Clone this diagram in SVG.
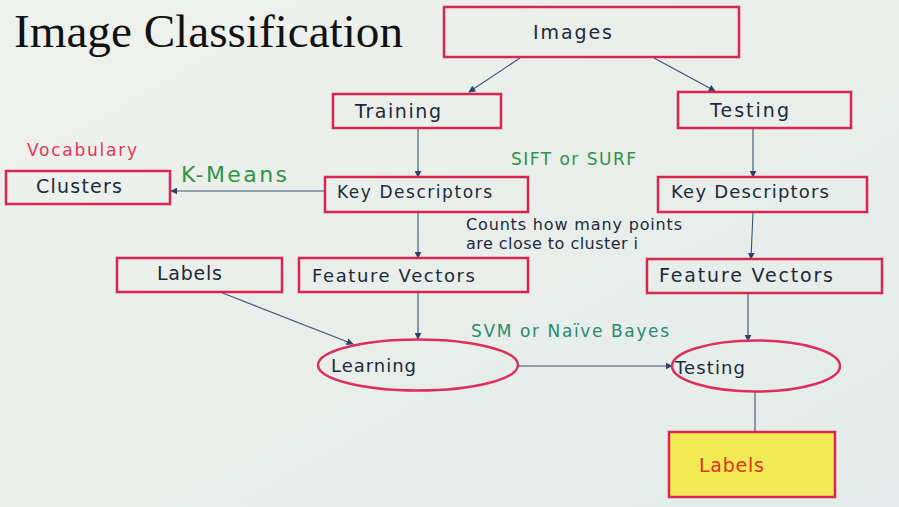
<svg xmlns="http://www.w3.org/2000/svg" width="899" height="507" viewBox="0 0 899 507">
  <defs>
    <linearGradient id="bg" x1="0" y1="0" x2="1" y2="1">
      <stop offset="0" stop-color="#eff1ec"/>
      <stop offset="0.5" stop-color="#e9eeea"/>
      <stop offset="1" stop-color="#e3ecea"/>
    </linearGradient>
    <marker id="arrow" viewBox="0 0 10 10" refX="9" refY="5" markerWidth="7" markerHeight="7" orient="auto" markerUnits="userSpaceOnUse">
      <path d="M0,0 L10,5 L0,10 z" fill="#2c4466"/>
    </marker>
    <style>
      .box { fill: none; stroke: #d8264e; stroke-width: 2.5; }
      .oval { fill: none; stroke: #dc2f5a; stroke-width: 2.5; }
      text { font-family: "DejaVu Sans", "Noto Sans", sans-serif; }
      .lbl { font-size: 19px; fill: #1c2a3c; }
      .note { font-size: 16px; fill: #1c2a3c; }
      .green { font-size: 17px; fill: #2e9446; }
      .teal { font-size: 17px; fill: #2a8a6c; }
      .red { font-size: 17px; fill: #e2365a; }
      .edge { stroke: #3a5272; stroke-width: 1.1; fill: none; }
      .edge.arrowed { marker-end: url(#arrow); }
    </style>
  </defs>

  <rect x="0" y="0" width="899" height="507" fill="url(#bg)"/>

  <text x="14" y="47" style="font-family: 'Liberation Serif', serif; font-size: 47px;" fill="#111" textLength="389" lengthAdjust="spacingAndGlyphs">Image Classification</text>

  <!-- connectors -->
  <g id="connectors">
    <line class="edge arrowed" x1="520" y1="58" x2="469" y2="92"/>
    <line class="edge arrowed" x1="654" y1="58" x2="715" y2="91"/>
    <line class="edge arrowed" x1="418" y1="129" x2="418" y2="177"/>
    <line class="edge arrowed" x1="753" y1="129" x2="753" y2="177"/>
    <line class="edge arrowed" x1="325" y1="191" x2="171" y2="191"/>
    <line class="edge arrowed" x1="418" y1="212" x2="418" y2="258"/>
    <line class="edge arrowed" x1="753" y1="212" x2="751" y2="259"/>
    <line class="edge arrowed" x1="220" y1="292" x2="353" y2="344"/>
    <line class="edge arrowed" x1="418" y1="292" x2="418" y2="339"/>
    <line class="edge arrowed" x1="748" y1="293" x2="748" y2="341"/>
    <line class="edge arrowed" x1="518" y1="366" x2="672" y2="366"/>
    <line class="edge" x1="755" y1="392" x2="755" y2="432"/>
  </g>

  <!-- edge annotations -->
  <text class="red" x="27" y="156" textLength="110" lengthAdjust="spacing">Vocabulary</text>
  <text class="green" x="181" y="182" style="font-size: 22px;" textLength="106" lengthAdjust="spacing">K-Means</text>
  <text class="green" x="511" y="165" textLength="125" lengthAdjust="spacing">SIFT or SURF</text>
  <text class="note" x="466" y="230" textLength="216" lengthAdjust="spacing">Counts how many points</text>
  <text class="note" x="466" y="249" textLength="172" lengthAdjust="spacing">are close to cluster i</text>
  <text class="teal" x="471" y="337" textLength="198" lengthAdjust="spacing">SVM or Naïve Bayes</text>

  <g id="images">
    <rect class="box" x="444" y="7" width="295" height="50"/>
    <text class="lbl" x="533" y="39" textLength="79" lengthAdjust="spacing">Images</text>
  </g>
  <g id="training">
    <rect class="box" x="333" y="94" width="168" height="34"/>
    <text class="lbl" x="355" y="118" textLength="86" lengthAdjust="spacing">Training</text>
  </g>
  <g id="testing-branch">
    <rect class="box" x="678" y="92" width="173" height="36"/>
    <text class="lbl" x="710" y="117" textLength="79" lengthAdjust="spacing">Testing</text>
  </g>
  <g id="clusters">
    <rect class="box" x="6" y="171" width="164" height="33"/>
    <text class="lbl" x="36" y="193" textLength="86" lengthAdjust="spacing">Clusters</text>
  </g>
  <g id="key-descriptors-train">
    <rect class="box" x="325" y="177" width="203" height="35"/>
    <text class="lbl" x="337" y="198" style="font-size: 17px;" textLength="155" lengthAdjust="spacing">Key Descriptors</text>
  </g>
  <g id="key-descriptors-test">
    <rect class="box" x="658" y="177" width="209" height="35"/>
    <text class="lbl" x="671" y="198" style="font-size: 18px;" textLength="158" lengthAdjust="spacing">Key Descriptors</text>
  </g>
  <g id="labels-input">
    <rect class="box" x="117" y="258" width="165" height="34"/>
    <text class="lbl" x="157" y="280" textLength="65" lengthAdjust="spacing">Labels</text>
  </g>
  <g id="feature-vectors-train">
    <rect class="box" x="299" y="258" width="229" height="34"/>
    <text class="lbl" x="312" y="282" style="font-size: 18px;" textLength="163" lengthAdjust="spacing">Feature Vectors</text>
  </g>
  <g id="feature-vectors-test">
    <rect class="box" x="647" y="259" width="235" height="34"/>
    <text class="lbl" x="659" y="282" textLength="174" lengthAdjust="spacing">Feature Vectors</text>
  </g>
  <g id="learning">
    <ellipse class="oval" cx="418" cy="365" rx="100" ry="25.5"/>
    <text class="lbl" x="331" y="372" style="font-size: 18px;" textLength="85" lengthAdjust="spacing">Learning</text>
  </g>
  <g id="testing-step">
    <ellipse class="oval" cx="756" cy="366" rx="84" ry="25.5"/>
    <text class="lbl" x="675" y="374" style="font-size: 18px;" textLength="70" lengthAdjust="spacing">Testing</text>
  </g>
  <g id="labels-output">
    <rect x="669" y="432" width="166" height="65" fill="#f1ea55" stroke="#d8264e" stroke-width="2.5"/>
    <text x="699" y="472" style="font-size: 19px;" fill="#e0341c" textLength="65" lengthAdjust="spacing">Labels</text>
  </g>
</svg>
